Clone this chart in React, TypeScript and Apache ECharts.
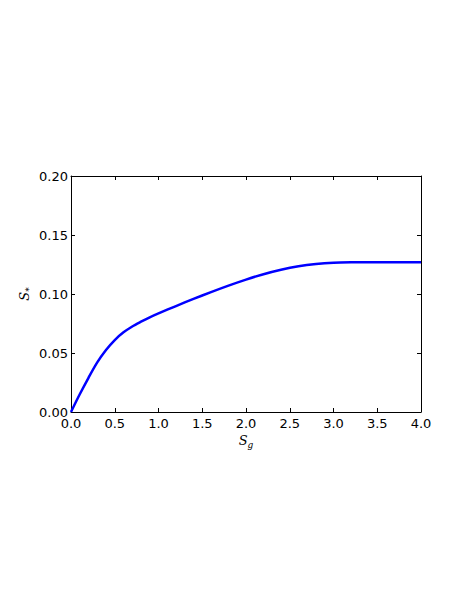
import React, { useEffect, useRef } from "react";
import * as echarts from "echarts";

const sgValues = [0, 0.1, 0.2, 0.3, 0.4, 0.5, 0.6, 0.7, 0.8, 0.9, 1.0, 1.2, 1.4, 1.6, 1.8, 2.0, 2.2, 2.4, 2.6, 2.8, 3.0, 3.2, 3.4, 3.6, 3.8, 4.0];
const sStarValues = [0, 0.015, 0.029, 0.042, 0.0525, 0.061, 0.0675, 0.0725, 0.0765, 0.0802, 0.0835, 0.0898, 0.0958, 0.1016, 0.1071, 0.1122, 0.1168, 0.1206, 0.1235, 0.1254, 0.1265, 0.1269, 0.127, 0.127, 0.127, 0.127];
const xTickFormat = (v: number) => v.toFixed(1);
const yTickFormat = (v: number) => v.toFixed(2);

export default function App() {
  const ref = useRef<HTMLDivElement>(null);
  useEffect(() => {
    if (!ref.current) return;
    const chart = echarts.init(ref.current, undefined, { renderer: "svg" });
    const font = "DejaVu Sans";
    const axisLine = { show: true, onZero: false, lineStyle: { color: "#000", width: 1 } };
    const tickStyle = { show: true, inside: true, length: 4, lineStyle: { color: "#000", width: 1 } };
    const data = sgValues.map((x, i) => [x, sStarValues[i]]);
    const rich = {
      s: { fontFamily: "DejaVu Serif", fontStyle: "italic", fontSize: 13, color: "#000" },
      sub: { fontFamily: "DejaVu Serif", fontStyle: "italic", fontSize: 9, color: "#000", padding: [8, 0, 0, 0] },
    };
    chart.setOption({
      animation: false,
      backgroundColor: "#fff",
      grid: { left: 71, top: 176, right: 46, bottom: 193, containLabel: false },
      xAxis: [
        {
          type: "value", min: 0, max: 4, interval: 0.5,
          axisLine, axisTick: tickStyle, splitLine: { show: false },
          axisLabel: { formatter: xTickFormat, fontFamily: font, fontSize: 13, color: "#000", margin: 5 },
          name: "{s|S}{sub|g}",
          nameLocation: "middle", nameGap: 20, nameMoveOverlap: false,
          nameTextStyle: { rich },
        },
        {
          type: "value", min: 0, max: 4, interval: 0.5, position: "top",
          axisLine, axisTick: tickStyle, axisLabel: { show: false }, splitLine: { show: false },
        },
      ],
      yAxis: [
        {
          type: "value", min: 0, max: 0.2, interval: 0.05,
          axisLine, axisTick: tickStyle, splitLine: { show: false },
          axisLabel: { formatter: yTickFormat, fontFamily: font, fontSize: 13, color: "#000", margin: 3 },
          name: "{s|S}{sub|*}",
          nameLocation: "middle", nameGap: 38, nameRotate: 90, nameMoveOverlap: false,
          nameTextStyle: { rich },
        },
        {
          type: "value", min: 0, max: 0.2, interval: 0.05, position: "right",
          axisLine, axisTick: tickStyle, axisLabel: { show: false }, splitLine: { show: false },
        },
      ],
      series: [
        {
          type: "line",
          data,
          smooth: 0.3,
          showSymbol: false,
          symbol: "none",
          lineStyle: { color: "#0000ff", width: 2.5 },
          clip: true,
        },
      ],
    });
    return () => chart.dispose();
  }, []);
  return (
    <div
      ref={ref}
      style={{ position: "fixed", left: 0, top: 0, width: 467, height: 605, background: "#fff" }}
    />
  );
}
